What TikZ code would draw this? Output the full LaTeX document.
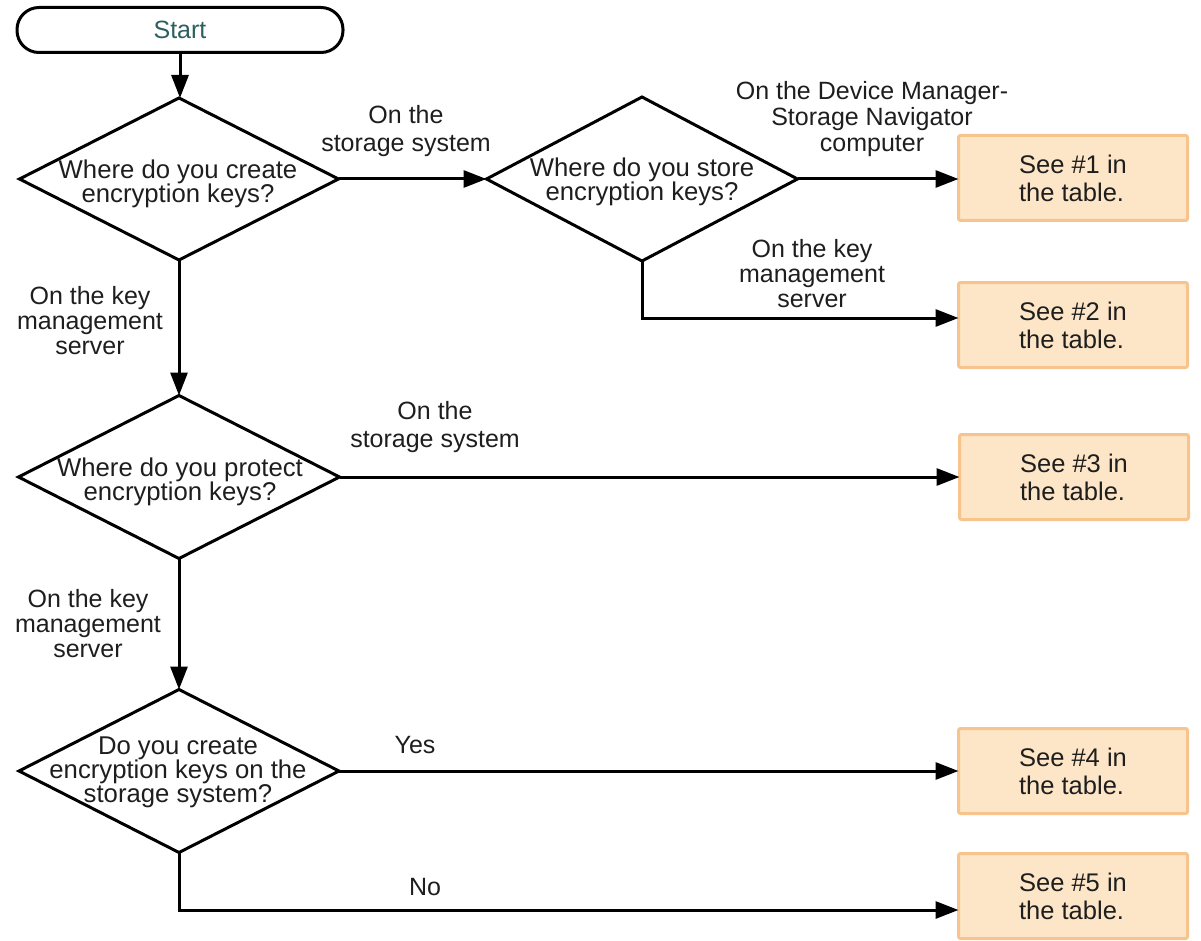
\documentclass[tikz,border=0pt]{standalone}
\usepackage{fontspec}
\setmainfont{Liberation Sans}
\usetikzlibrary{arrows.meta,shapes.geometric}
\definecolor{startteal}{RGB}{45,95,95}
\definecolor{boxfill}{RGB}{253,230,199}
\definecolor{boxline}{RGB}{247,196,142}
\definecolor{txt}{RGB}{30,30,30}
\begin{document}
\begin{tikzpicture}[x=1pt,y=-1pt,
  every node/.style={font=\fontsize{25}{25}\selectfont, text=txt},
  line/.style={line width=3pt, draw=black},
  arr/.style={line, -{Triangle[length=23pt,width=17pt]}},
  dia/.style={diamond, draw=black, line width=3pt, inner sep=0pt, outer sep=0pt},
  dtext/.style={align=center, inner sep=0pt, font=\fontsize{25.7}{24}\selectfont},
  lbl/.style={align=center, inner sep=0pt, font=\fontsize{25}{25}\selectfont},
  resbox/.style={draw=boxline, fill=boxfill, line width=3pt, rounded corners=2pt,
    minimum width=229pt, minimum height=85pt, inner sep=0pt, outer sep=0pt,
    align=left, font=\fontsize{25.5}{28}\selectfont},
  pill/.style={draw=black, line width=3pt, rounded corners=22pt, minimum width=326pt,
    minimum height=45pt, inner sep=0pt, outer sep=0pt, text=startteal}
]
\useasboundingbox (0,0) rectangle (1201,941);

% start
\node[pill] (start) at (180,30) {Start};

% diamonds
\node[dia, minimum width=319pt, minimum height=162pt] (d1) at (179,179) {};
\node[dtext] (d1t) at (178,184) {Where do you create\\encryption keys?};
\node[dia, minimum width=311pt, minimum height=164pt] (d2) at (642,179) {};
\node[dtext] (d2t) at (642,182) {Where do you store\\encryption keys?};
\node[dia, minimum width=321pt, minimum height=163pt] (d3) at (179,477) {};
\node[dtext] (d3t) at (180,482) {Where do you protect\\encryption keys?};
\node[dia, minimum width=320pt, minimum height=163pt] (d4) at (179,771) {};
\node[dtext] (d4t) at (178,772) {Do you create\\encryption keys on the\\storage system?};

% result boxes
\node[resbox] (b1) at (1073,178) {See \#1 in\\the table.};
\node[resbox] (b2) at (1073,325) {See \#2 in\\the table.};
\node[resbox] (b3) at (1074,477) {See \#3 in\\the table.};
\node[resbox] (b4) at (1073,771) {See \#4 in\\the table.};
\node[resbox] (b5) at (1073,896) {See \#5 in\\the table.};

% turning points
\coordinate (c2) at (642,318);
\coordinate (c5) at (179,910);

% connectors
\draw[arr] (start.south) -- (start.south |- d1.north);
\draw[arr] (d1.east) -- (d2.west);
\draw[arr] (d2.east) -- (b1.west |- d2.east);
\draw[arr] (d2.south) -- (c2) -- (c2 -| b2.west);
\draw[arr] (d1.south) -- (d3.north);
\draw[arr] (d3.east) -- (b3.west |- d3.east);
\draw[arr] (d3.south) -- (d4.north);
\draw[arr] (d4.east) -- (b4.west |- d4.east);
\draw[arr] (d4.south) -- (c5) -- (c5 -| b5.west);

% labels
\node[lbl] (l1) at (406,131) {On the\\[3pt]storage system};
\node[lbl] (l2) at (872,119) {On the Device Manager-\\[1pt]Storage Navigator\\[1pt]computer};
\node[lbl] (l3) at (812,274) {On the key\\management\\server};
\node[lbl] (l4) at (90,321) {On the key\\management\\server};
\node[lbl] (l5) at (435,427) {On the\\[3pt]storage system};
\node[lbl] (l6) at (88,624) {On the key\\management\\server};
\node[lbl] (l7) at (415,745) {Yes};
\node[lbl] (l8) at (425,887) {No};
\end{tikzpicture}
\end{document}
